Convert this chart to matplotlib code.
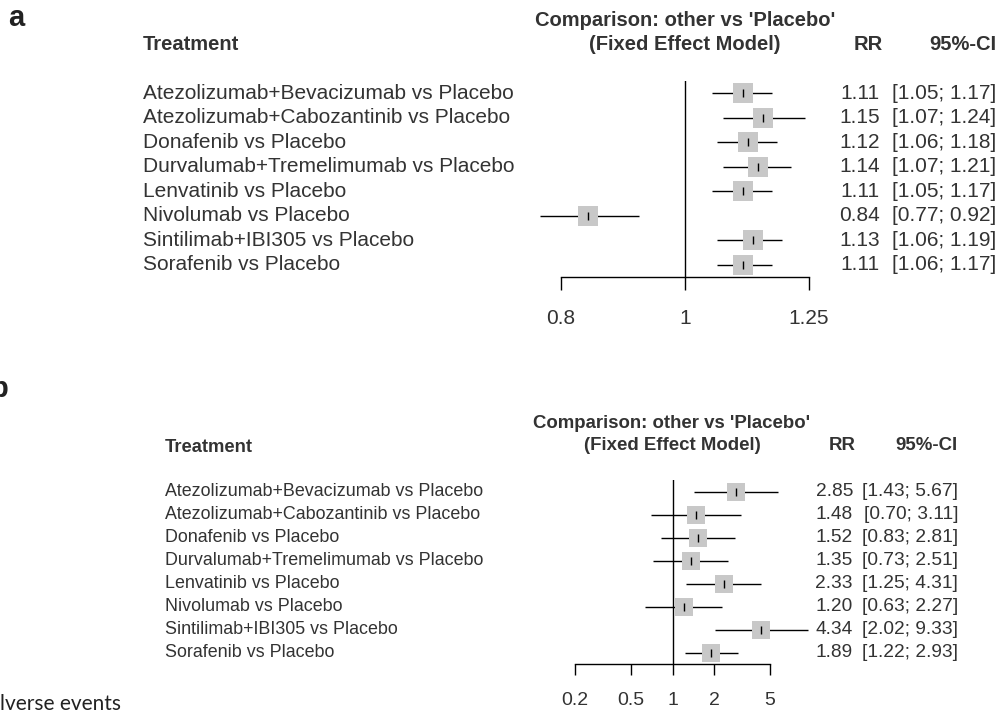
import numpy as np
import matplotlib.pyplot as plt
import matplotlib.transforms as mtransforms

plt.rcParams['font.family'] = ['Liberation Sans', 'DejaVu Sans']

treatments = [
    "Atezolizumab+Bevacizumab vs Placebo",
    "Atezolizumab+Cabozantinib vs Placebo",
    "Donafenib vs Placebo",
    "Durvalumab+Tremelimumab vs Placebo",
    "Lenvatinib vs Placebo",
    "Nivolumab vs Placebo",
    "Sintilimab+IBI305 vs Placebo",
    "Sorafenib vs Placebo",
]

# panel a
rr_a = [1.11, 1.15, 1.12, 1.14, 1.11, 0.84, 1.13, 1.11]
lo_a = [1.05, 1.07, 1.06, 1.07, 1.05, 0.77, 1.06, 1.06]
hi_a = [1.17, 1.24, 1.18, 1.21, 1.17, 0.92, 1.19, 1.17]
ticks_a = [0.8, 1, 1.25]
tick_labels_a = ["0.8", "1", "1.25"]

# panel b
rr_b = [2.85, 1.48, 1.52, 1.35, 2.33, 1.20, 4.34, 1.89]
lo_b = [1.43, 0.70, 0.83, 0.73, 1.25, 0.63, 2.02, 1.22]
hi_b = [5.67, 3.11, 2.81, 2.51, 4.31, 2.27, 9.33, 2.93]
ticks_b = [0.2, 0.5, 1, 2, 5]
tick_labels_b = ["0.2", "0.5", "1", "2", "5"]

W, H = 1001, 715
fig = plt.figure(figsize=(W / 100, H / 100), dpi=100)
txt = '#333333'


def fx(px):
    return px / W


def fy(py):
    return 1 - py / H


def forest(box, rr, lo, hi, ticks, tlabels, fs, nfs, tfs, cols, tick_len, pad, sq):
    # box = (x0, x1, ytop, ybottom) in pixels
    x0, x1, yt, yb = box
    ax = fig.add_axes([fx(x0), fy(yb), fx(x1) - fx(x0), fy(yt) - fy(yb)])
    ax.set_xscale('log')
    ax.set_xlim(ticks[0], ticks[-1])
    ax.set_ylim(len(rr) - 0.5, -0.5)
    for s in ['top', 'right', 'left']:
        ax.spines[s].set_visible(False)
    ax.spines['bottom'].set_linewidth(1.0)
    ax.set_yticks([])
    ax.set_xticks(ticks)
    ax.set_xticklabels(tlabels)
    ax.xaxis.set_minor_locator(plt.NullLocator())
    ax.tick_params(axis='x', direction='out', length=tick_len, width=1.0,
                   labelsize=tfs, labelcolor=txt, pad=pad)
    ax.axvline(1, color='black', lw=1.0)
    ax.patch.set_alpha(0)
    y = np.arange(len(rr))
    ax.hlines(y, lo, hi, color='black', lw=1.0, clip_on=False, zorder=2)
    ax.scatter(rr, y, marker='s', s=sq, color='#c8c8c8', lw=0, zorder=3, clip_on=False)
    ax.scatter(rr, y, marker='|', s=30, color='black', lw=1.0, zorder=4, clip_on=False)

    tr = mtransforms.blended_transform_factory(fig.transFigure, ax.transData)
    lab_x, rr_x, ci_x = cols
    for i in range(len(rr)):
        fig.text(fx(lab_x), i, treatments[i], transform=tr, ha='left', va='center',
                 fontsize=fs, color=txt)
        fig.text(fx(rr_x), i, f"{rr[i]:.2f}", transform=tr, ha='right', va='center',
                 fontsize=nfs, color=txt)
        fig.text(fx(ci_x), i, f"[{lo[i]:.2f}; {hi[i]:.2f}]", transform=tr, ha='right',
                 va='center', fontsize=nfs, color=txt)
    return ax


# panel a
forest((561, 809, 81, 277), rr_a, lo_a, hi_a, ticks_a, tick_labels_a, 15, 15, 15,
       (143, 880, 996), 9.4, 14, 190)
fig.text(fx(8), fy(18), 'a', fontsize=21, fontweight='bold', color='#222222',
         ha='left', va='center')
fig.text(fx(143), fy(45), 'Treatment', fontsize=14.5, fontweight='bold', color=txt,
         ha='left', va='center')
fig.text(fx(685), fy(21), "Comparison: other vs 'Placebo'", fontsize=14.5,
         fontweight='bold', color=txt, ha='center', va='center')
fig.text(fx(685), fy(45), "(Fixed Effect Model)", fontsize=14.5,
         fontweight='bold', color=txt, ha='center', va='center')
fig.text(fx(868), fy(45), "RR", fontsize=14.5, fontweight='bold', color=txt,
         ha='center', va='center')
fig.text(fx(996), fy(45), "95%-CI", fontsize=14.5, fontweight='bold', color=txt,
         ha='right', va='center')

# panel b
forest((575, 770, 480, 664), rr_b, lo_b, hi_b, ticks_b, tick_labels_b, 12.9, 13.8, 14,
       (165, 853, 958), 8, 12, 180)
fig.text(fx(-10), fy(389), 'b', fontsize=21, fontweight='bold', color='#222222',
         ha='left', va='center')
fig.text(fx(165), fy(447), 'Treatment', fontsize=13.2, fontweight='bold', color=txt,
         ha='left', va='center')
fig.text(fx(672), fy(423), "Comparison: other vs 'Placebo'", fontsize=13.4,
         fontweight='bold', color=txt, ha='center', va='center')
fig.text(fx(672), fy(446), "(Fixed Effect Model)", fontsize=13.4,
         fontweight='bold', color=txt, ha='center', va='center')
fig.text(fx(842), fy(446), "RR", fontsize=13.4, fontweight='bold', color=txt,
         ha='center', va='center')
fig.text(fx(958), fy(446), "95%-CI", fontsize=13.4, fontweight='bold', color=txt,
         ha='right', va='center')

fig.text(fx(0), fy(704), 'lverse events', fontsize=15, family=['Lato', 'DejaVu Sans'],
         color='#222222', ha='left', va='center')

fig.savefig('out.png', dpi=100)
